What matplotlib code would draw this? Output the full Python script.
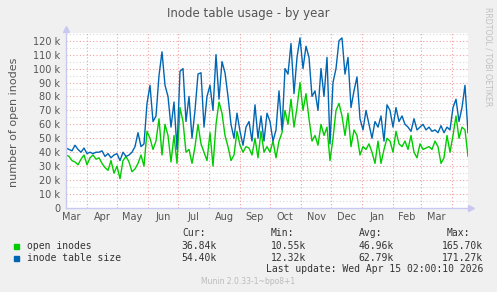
import datetime as dt
import matplotlib
matplotlib.use("Agg")
import matplotlib.pyplot as plt
import matplotlib.dates as mdates
import numpy as np

# data, one point every 3 days starting 2025-03-11 (values in k)
start = dt.date(2025, 3, 11)
step_days = 3
open_inodes = [38, 37, 34, 33, 31, 35, 38, 31, 36, 38, 35, 36, 32, 29, 27, 34, 25, 30, 21, 34,
               37, 33, 26, 28, 32, 38, 30, 55, 50, 42, 48, 64, 38, 60, 52, 33, 52, 32, 72, 62,
               40, 42, 32, 44, 60, 46, 40, 34, 54, 30, 60, 76, 68, 52, 44, 34, 38, 55, 45, 40,
               44, 43, 38, 50, 36, 55, 40, 44, 40, 48, 36, 48, 54, 70, 60, 78, 58, 72, 90, 70,
               82, 64, 48, 52, 45, 60, 52, 58, 34, 50, 70, 75, 66, 52, 68, 44, 56, 52, 38, 44,
               42, 46, 40, 32, 48, 32, 42, 50, 48, 40, 55, 46, 44, 48, 42, 52, 40, 36, 46, 42,
               43, 44, 42, 48, 44, 32, 36, 52, 40, 52, 66, 50, 58, 56, 37]
table_size = [43, 42, 41, 45, 42, 40, 43, 39, 40, 39, 40, 40, 41, 37, 39, 36, 38, 39, 34, 40,
              37, 38, 40, 44, 54, 44, 46, 75, 88, 62, 66, 95, 112, 88, 80, 58, 76, 42, 98, 100,
              62, 80, 50, 70, 96, 97, 58, 80, 88, 70, 110, 78, 105, 97, 80, 60, 50, 68, 55, 45,
              58, 62, 48, 74, 50, 66, 48, 68, 62, 48, 56, 84, 56, 100, 96, 118, 82, 108, 122, 100,
              116, 108, 80, 84, 70, 100, 80, 108, 46, 90, 100, 120, 122, 96, 108, 72, 84, 94, 64, 56,
              70, 60, 50, 62, 58, 66, 48, 74, 70, 58, 72, 62, 66, 60, 58, 55, 64, 56, 58, 60,
              56, 58, 55, 56, 54, 59, 54, 58, 56, 72, 78, 62, 72, 88, 54]
months = ["Mar", "Apr", "May", "Jun", "Jul", "Aug", "Sep", "Oct", "Nov", "Dec", "Jan", "Feb", "Mar"]
legend_names = ["open inodes", "inode table size"]
cur = ["36.84k", "54.40k"]
vmin = ["10.55k", "12.32k"]
avg = ["46.96k", "62.79k"]
vmax = ["165.70k", "171.27k"]

dates = [start + dt.timedelta(days=step_days * i) for i in range(len(table_size))]
month_starts = [dt.date(2025 + (2 + m) // 12, (2 + m) % 12 + 1, 1) for m in range(14)]
month_mids = [a + (b - a) / 2 for a, b in zip(month_starts[:-1], month_starts[1:])]

W, H = 497, 292
fig = plt.figure(figsize=(W / 100, H / 100), dpi=100, facecolor="#f0f0f0")
ax = fig.add_axes([66 / W, (H - 208) / H, 402 / W, 175 / H])
ax.set_facecolor("white")

x0, x1 = mdates.date2num(start), mdates.date2num(dates[-1])
ax.set_xlim(x0, x1)
ax.set_ylim(0, 125.5)

# grid
for v in range(5, 126, 10):
    ax.axhline(v, color="#d8d8d8", lw=0.8, ls=(0, (1, 2)), zorder=1)
for v in range(10, 126, 10):
    ax.axhline(v, color="#f2a0a0", lw=0.8, ls=(0, (1, 2)), zorder=1)
for d in month_starts:
    if x0 < mdates.date2num(d) < x1:
        ax.axvline(d, color="#f2a0a0", lw=0.8, ls=(0, (1, 2)), zorder=1)

ax.plot(dates, open_inodes, color="#00cc00", lw=1.0, zorder=3)
ax.plot(dates, table_size, color="#0066b3", lw=1.0, zorder=4)

for s in ax.spines.values():
    s.set_visible(False)
axc = "#c8c8f0"
ax.plot([x0, x1 + 3], [0, 0], color=axc, lw=1, clip_on=False, zorder=5)
ax.plot([x0, x0], [0, 128.5], color=axc, lw=1, clip_on=False, zorder=5)
ax.plot([x1 + 3], [0], marker=">", color=axc, ms=4, clip_on=False, zorder=5)
ax.plot([x0], [128.5], marker="^", color=axc, ms=4, clip_on=False, zorder=5)

tc = "#555555"
ax.set_yticks(range(0, 121, 10))
ax.set_yticklabels(["0"] + ["%d k" % v for v in range(10, 121, 10)])
ax.set_xticks(month_mids)
ax.set_xticklabels(months)
ax.tick_params(axis="both", length=0, labelsize=7, colors=tc, pad=4)
ax.tick_params(axis="x", pad=3)

fig.text(248 / W, 1 - 13 / H, "Inode table usage - by year", ha="center", va="center",
         fontsize=8.5, color=tc)
fig.text(14 / W, 1 - 122 / H, "number of open inodes", rotation=90, ha="center",
         va="center", fontsize=8, color=tc)
fig.text(488 / W, 1 - 57 / H, "RRDTOOL / TOBI OETIKER", rotation=270, ha="center",
         va="center", fontsize=5.6, color="#c0c0c0")

mono = dict(family="DejaVu Sans Mono", fontsize=7, color="#333333", va="center")
ypx = [246, 258]
fig.text(182 / W, 1 - 233 / H, "Cur:", ha="left", **mono)
fig.text(271 / W, 1 - 233 / H, "Min:", ha="left", **mono)
fig.text(359 / W, 1 - 233 / H, "Avg:", ha="left", **mono)
fig.text(447 / W, 1 - 233 / H, "Max:", ha="left", **mono)
for k, c in enumerate(["#00cc00", "#0066b3"]):
    y = 1 - ypx[k] / H
    fig.patches.append(plt.Rectangle((14 / W, y - 2.5 / H), 5 / W, 5 / H, color=c,
                                     transform=fig.transFigure))
    fig.text(27 / W, y, legend_names[k], ha="left", **mono)
    fig.text(217 / W, y, cur[k], ha="right", **mono)
    fig.text(306 / W, y, vmin[k], ha="right", **mono)
    fig.text(394 / W, y, avg[k], ha="right", **mono)
    fig.text(483 / W, y, vmax[k], ha="right", **mono)
fig.text(483 / W, 1 - 269 / H, "Last update: Wed Apr 15 02:00:10 2026", ha="right", **mono)
fig.text(248 / W, 1 - 281 / H, "Munin 2.0.33-1~bpo8+1", ha="center", va="center",
         family="DejaVu Sans", fontsize=5.5, color="#bbbbbb")

fig.savefig("out.png", dpi=100, facecolor=fig.get_facecolor())
